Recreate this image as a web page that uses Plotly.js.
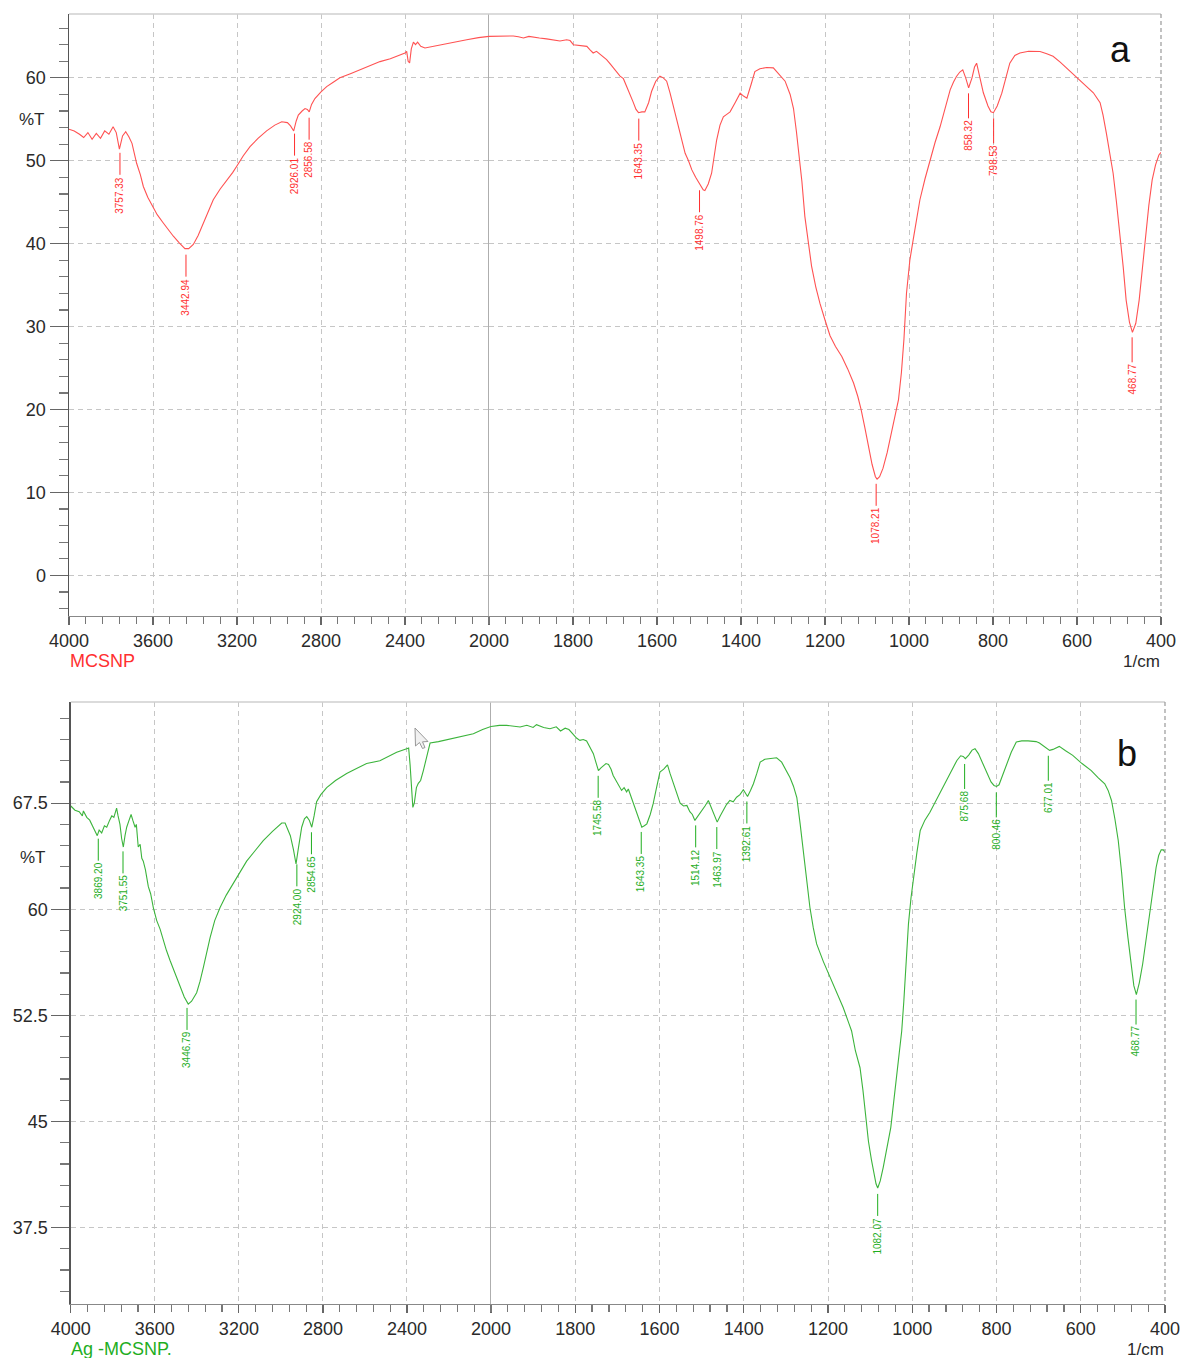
<!DOCTYPE html>
<html><head><meta charset="utf-8">
<script src="https://cdn.plot.ly/plotly-3.0.1.min.js"></script>
<style>html,body{margin:0;padding:0;background:#fff}#chart{width:1181px;height:1358px}</style>
</head><body><div id="chart"></div>
<script>
// ---- Spectrum a: MCSNP ----
const wnA = [4000,3975,3950,3930,3910,3890,3870,3850,3830,3810,3790,3775,3760,3745,3730,3715,3700,3690,3678,3660,3646,3625,3606,3580,3551,3525,3503,3475,3448,3430,3408,3385,3360,3335,3313,3280,3249,3220,3202,3170,3138,3100,3059,3020,2987,2960,2945,2930,2918,2908,2890,2876,2865,2856,2845,2829,2800,2773,2740,2710,2660,2614,2560,2519,2470,2432,2400,2392,2385,2378,2370,2360,2350,2340,2325,2305,2250,2201,2150,2106,2050,2011,2000,
1970,1942,1930,1918,1905,1894,1880,1863,1845,1831,1815,1807,1799,1785,1767,1760,1752,1744,1736,1728,1720,1710,1700,1688,1680,1672,1665,1657,1650,1644,1636,1629,1620,1613,1603,1593,1585,1577,1569,1561,1553,1545,1533,1525,1517,1508,1498,1490,1486,1478,1470,1464,1458,1450,1442,1434,1426,1414,1402,1394,1386,1376,1367,1355,1339,1323,1308,1295,1283,1275,1268,1263,1255,1248,1240,1232,1222,1212,1200,1188,1175,1160,1146,1132,1122,1114,1105,1096,1088,1080,1076,1070,1062,1052,1040,1032,1025,1018,1012,1006,998,990,982,974,962,950,938,926,914,902,894,887,879,872,865,858,850,844,839,832,823,812,805,799,790,779,770,760,748,736,715,700,688,672,657,640,617,590,561,545,538,530,522,514,506,498,490,483,475,468,460,452,444,437,429,421,413,405,400];
const tA = [53.8,53.6,53.2,52.8,53.4,52.6,53.3,52.7,53.6,53.2,54.1,53.4,51.4,53.0,53.5,52.9,52.1,51.0,49.7,48.3,46.9,45.6,44.7,43.5,42.5,41.6,40.9,40.1,39.4,39.4,39.9,41.0,42.5,44.0,45.3,46.6,47.6,48.6,49.3,50.6,51.7,52.7,53.6,54.3,54.7,54.6,54.2,53.6,54.8,55.5,56.0,56.3,56.2,55.9,56.8,57.5,58.3,58.95,59.5,60.0,60.5,61.0,61.5,61.96,62.3,62.65,63.0,63.2,62.0,61.8,63.5,64.3,64.0,64.3,63.8,63.6,63.9,64.1,64.4,64.6,64.85,65.0,65.0,
65.05,65.05,64.95,64.8,65.0,64.95,64.8,64.7,64.6,64.45,64.6,64.5,64.0,63.9,63.8,63.4,63.0,63.2,62.9,62.6,62.2,61.6,61.0,60.2,59.9,59.0,58.2,57.1,56.2,55.8,55.9,55.9,57.0,58.35,59.6,60.2,60.0,59.6,58.2,56.5,54.8,53.3,50.9,50.0,48.9,48.0,47.1,46.5,46.4,47.2,48.5,50.3,52.5,54.3,55.3,55.6,55.9,57.0,58.15,57.8,57.55,59.2,60.76,61.1,61.24,61.2,60.4,59.6,58.0,56.3,53.5,51.3,47.5,43.3,40.2,37.3,34.8,32.8,30.8,28.9,27.6,26.4,24.9,23.2,21.6,20.0,17.8,15.5,13.4,11.9,11.6,11.9,12.9,14.8,17.5,19.3,21.2,24.5,28.5,34.0,38.0,40.5,43.0,45.3,47.8,50.1,52.2,54.1,56.3,58.55,59.5,60.16,60.7,60.96,60.0,58.8,60.0,61.3,61.77,60.3,58.2,56.6,55.9,55.8,56.6,58.15,60.0,61.77,62.7,63.0,63.2,63.2,63.17,62.9,62.6,61.9,60.8,59.6,58.2,57.0,55.5,53.3,51.0,48.5,45.0,41.3,37.2,33.2,30.5,29.3,30.4,33.2,37.3,41.3,44.6,47.7,49.5,50.7,51.0];
const peaksA = [3757.33,3442.94,2926.01,2856.58,1643.35,1498.76,1078.21,858.32,798.53,468.77];

// ---- Spectrum b: Ag -MCSNP ----
const wnB = [4000,3980,3960,3945,3940,3924,3910,3900,3885,3874,3865,3853,3840,3829,3815,3805,3795,3782,3775,3766,3758,3750,3742,3734,3725,3713,3705,3694,3688,3679,3670,3662,3655,3645,3631,3620,3607,3600,3591,3575,3560,3545,3528,3505,3480,3460,3441,3425,3401,3385,3369,3353,3337,3315,3290,3260,3227,3195,3163,3125,3084,3040,2996,2980,2972,2955,2940,2928,2918,2908,2901,2888,2877,2865,2853,2842,2830,2810,2782,2740,2687,2640,2592,2529,2480,2449,2401,2392,2385,2378,2372,2365,2355,2346,2335,2322,2310,2298,2290,2250,2211,2150,2084,2040,2005,2000,
1980,1963,1950,1931,1915,1900,1892,1875,1860,1845,1835,1824,1815,1805,1797,1789,1781,1773,1765,1757,1750,1745,1739,1733,1727,1721,1715,1710,1700,1690,1684,1678,1674,1668,1662,1655,1648,1642,1636,1630,1622,1615,1607,1599,1590,1581,1575,1567,1559,1551,1543,1535,1528,1522,1516,1508,1500,1492,1484,1477,1470,1463,1456,1449,1441,1433,1425,1417,1409,1401,1396,1391,1384,1377,1369,1361,1350,1335,1322,1310,1298,1290,1282,1274,1266,1259,1251,1243,1235,1227,1211,1195,1179,1164,1150,1144,1135,1124,1117,1110,1104,1097,1091,1086,1082,1076,1069,1060,1051,1044,1038,1031,1025,1020,1014,1009,1003,997,989,981,970,958,942,926,910,894,885,879,874,866,858,851,843,837,831,822,813,806,800,794,786,776,765,753,740,725,706,698,690,682,674,666,660,651,636,619,597,575,559,543,535,527,519,511,503,496,488,480,474,468,461,453,445,437,429,421,415,409,404,400];
const tB = [67.3,67.0,66.9,66.6,66.95,66.5,66.3,66.0,65.6,65.2,65.6,65.4,65.9,65.8,66.3,66.6,66.5,67.15,66.6,66.0,65.0,64.4,65.2,65.8,66.2,66.7,66.3,65.8,66.0,64.4,64.6,63.6,63.4,62.8,61.6,61.1,60.1,59.7,59.2,58.6,57.8,57.1,56.4,55.5,54.6,53.8,53.3,53.5,54.1,54.9,55.9,57.0,58.0,59.2,60.1,61.0,61.8,62.6,63.4,64.1,64.85,65.5,66.1,66.1,65.8,65.2,64.2,63.2,64.2,65.3,65.8,66.4,66.55,66.3,65.8,66.6,67.6,68.1,68.6,69.1,69.6,69.95,70.3,70.5,70.9,71.1,71.35,71.4,70.2,68.4,67.2,67.5,68.6,68.9,69.1,69.8,70.6,71.4,71.75,71.85,71.98,72.2,72.4,72.7,72.9,72.92,
73.0,73.0,72.95,72.88,73.0,72.85,73.05,72.85,72.76,72.9,72.6,72.8,72.7,72.4,72.1,71.94,72.0,71.9,71.5,71.0,70.3,69.8,70.0,70.17,70.3,70.24,69.9,69.46,68.9,68.4,68.6,68.3,68.5,68.0,67.46,66.9,66.2,65.8,65.9,66.04,66.7,67.46,68.6,69.7,69.9,70.2,69.6,68.87,68.2,67.5,67.3,67.34,66.9,66.7,66.28,66.6,66.98,67.3,67.69,67.2,66.7,66.16,66.6,66.98,67.4,67.69,67.6,67.92,68.1,68.45,68.2,67.97,68.4,68.87,69.6,70.4,70.6,70.65,70.71,70.4,69.8,69.3,68.7,67.9,66.0,64.15,62.1,60.14,58.7,57.55,56.3,55.19,54.1,53.06,51.9,51.4,50.0,48.8,47.2,45.4,43.6,42.3,41.27,40.6,40.3,40.8,41.74,43.1,44.57,46.4,48.1,49.8,51.4,53.5,56.5,58.97,60.8,62.26,64.0,65.57,66.3,66.86,67.8,68.63,69.6,70.52,70.85,70.8,70.64,70.9,71.25,71.35,71.0,70.6,70.29,69.6,69.0,68.75,68.68,68.8,69.4,70.29,71.1,71.82,71.9,71.9,71.85,71.75,71.58,71.35,71.23,71.3,71.4,71.51,71.2,70.88,70.3,69.8,69.3,68.87,68.4,67.69,66.4,64.86,62.6,60.14,58.0,55.9,54.6,53.96,54.8,56.13,57.8,59.43,61.2,62.97,63.8,64.2,64.2,64.03];
const peaksB = [3869.20,3751.55,3446.79,2924.00,2854.65,1745.58,1643.35,1514.12,1463.97,1392.61,1082.07,875.68,800.46,677.01,468.77];

const xTicksLeft = [4000,3600,3200,2800,2400,2000];
const xTicksRight = [1800,1600,1400,1200,1000,800,600,400];
const yTicksA = [0,10,20,30,40,50,60];
const yTicksB = [37.5,45,52.5,60,67.5];
const yTickTextB = ['37.5','45','52.5','60','67.5'];

// ---- layout helpers ----
const W = 1181, H = 1358, BRK = 2000;
const fx = v => v / W, fy = v => 1 - v / H;
const FONT = 'Liberation Sans, Arial, sans-serif';
const RED = '#ff5252', RED_T = '#ff3030', GREEN = '#3cb43c', GREEN_T = '#1fae1f';

function splitAt(wn, t) {
  const L = {x: [], y: []}, R = {x: [], y: []};
  wn.forEach((w, i) => {
    if (w >= BRK) { L.x.push(w); L.y.push(t[i]); }
    if (w <= BRK) { R.x.push(w); R.y.push(t[i]); }
  });
  return [L, R];
}
function interp(wn, t, w) {
  for (let i = 0; i < wn.length - 1; i++) {
    if ((wn[i] >= w && wn[i + 1] <= w)) {
      const f = (wn[i] - w) / (wn[i] - wn[i + 1]);
      return t[i] + f * (t[i + 1] - t[i]);
    }
  }
  return t[t.length - 1];
}

const [aL, aR] = splitAt(wnA, tA);
const [bL, bR] = splitAt(wnB, tB);
const lineA = {color: RED, width: 1.1}, lineB = {color: GREEN, width: 1.1};
const data = [
  {x: aL.x, y: aL.y, xaxis: 'x', yaxis: 'y', mode: 'lines', line: lineA},
  {x: aR.x, y: aR.y, xaxis: 'x2', yaxis: 'y', mode: 'lines', line: lineA},
  {x: bL.x, y: bL.y, xaxis: 'x3', yaxis: 'y2', mode: 'lines', line: lineB},
  {x: bR.x, y: bR.y, xaxis: 'x4', yaxis: 'y2', mode: 'lines', line: lineB}
];

const P = [{l: 69, m: 489, r: 1161, t: 14, b: 616}, {l: 70.8, m: 491, r: 1165, t: 702, b: 1304}];
const GRID = '#c6c6c6', DASH = '5px,4px';
const tickFont = {family: FONT, size: 18, color: '#2a2a2a'};
function xAx(p, left, anchor) {
  return {
    domain: left ? [fx(p.l), fx(p.m)] : [fx(p.m), fx(p.r)],
    range: left ? [4000, 2000] : [2000, 400],
    anchor: anchor, tickmode: 'array', tickvals: left ? xTicksLeft : xTicksRight,
    ticks: 'outside', ticklen: 8, tickcolor: '#666', tickwidth: 1.2,
    showline: true, linecolor: '#888', linewidth: 1,
    showgrid: true, gridcolor: GRID, griddash: DASH, gridwidth: 1,
    zeroline: false, tickfont: tickFont, fixedrange: true,
    minor: {tickmode: 'linear', tick0: 0, dtick: left ? 80 : 40, ticks: 'outside', ticklen: 7, tickcolor: '#777', showgrid: false}
  };
}
function yAx(p, range, vals, text, minorStep, anchor) {
  return {
    domain: [fy(p.b), fy(p.t)], range: range, anchor: anchor,
    tickmode: 'array', tickvals: vals, ticktext: text,
    ticks: 'outside', ticklen: 18, tickcolor: '#666', tickwidth: 1.2,
    showline: true, linecolor: '#555', linewidth: 1.5,
    showgrid: true, gridcolor: GRID, griddash: DASH, gridwidth: 1,
    zeroline: false, tickfont: tickFont, fixedrange: true,
    minor: {tickmode: 'linear', tick0: 0, dtick: minorStep, ticks: 'outside', ticklen: 9, tickcolor: '#777', showgrid: false}
  };
}

const annotations = [];
function peakLabels(peaks, wn, t, xl, xr, yref, col) {
  peaks.forEach(w => {
    annotations.push({
      x: w, y: interp(wn, t, w), xref: w >= BRK ? xl : xr, yref: yref,
      text: w.toFixed(2), textangle: -90, showarrow: true, arrowhead: 0,
      arrowwidth: 1, arrowcolor: col, ax: 0, ay: 48, standoff: 6,
      font: {family: FONT, size: 10, color: col}
    });
  });
}
peakLabels(peaksA, wnA, tA, 'x', 'x2', 'y', RED_T);
peakLabels(peaksB, wnB, tB, 'x3', 'x4', 'y2', GREEN_T);

function txt(text, x, y, size, color, xanchor) {
  annotations.push({text: text, x: fx(x), y: fy(y), xref: 'paper', yref: 'paper', showarrow: false,
    xanchor: xanchor || 'center', yanchor: 'middle', font: {family: FONT, size: size, color: color}});
}
txt('%T', 32, 119, 17, '#2a2a2a');
txt('%T', 33, 857, 17, '#2a2a2a');
txt('MCSNP', 68, 661, 18, RED_T, 'left');
txt('Ag -MCSNP.', 69, 1349, 18, GREEN_T, 'left');
txt('1/cm', 1162, 661, 17, '#2a2a2a', 'right');
txt('1/cm', 1166, 1349, 17, '#2a2a2a', 'right');
txt('a', 1120, 50, 36, '#111');
txt('b', 1127, 753, 36, '#111');

const shapes = [];
P.forEach((p, i) => {
  const xl = i === 0 ? 'x' : 'x3', yr = i === 0 ? 'y' : 'y2';
  shapes.push({type: 'line', xref: 'paper', yref: 'paper', x0: fx(p.l), x1: fx(p.r), y0: fy(p.t), y1: fy(p.t), line: {color: '#cfcfcf', width: 1.5}});
  shapes.push({type: 'line', xref: 'paper', yref: 'paper', x0: fx(p.r), x1: fx(p.r), y0: fy(p.t), y1: fy(p.b), line: {color: '#999', width: 1.2, dash: '4px,3px'}});
  shapes.push({type: 'line', xref: xl, yref: yr + ' domain', x0: BRK, x1: BRK, y0: 0, y1: 1, layer: 'below', line: {color: '#9a9a9a', width: 1.6}});
});
// mouse-pointer artefact present in the original screenshot (panel b)
const cur = [[415,728],[415.5,746],[419.5,742.5],[422.5,748.5],[425,747.5],[422.5,741.8],[428,741.5]];
shapes.push({type: 'path', xref: 'paper', yref: 'paper',
  path: 'M' + cur.map(c => fx(c[0]) + ',' + fy(c[1])).join('L') + 'Z',
  fillcolor: 'rgba(240,240,240,0.9)', line: {color: '#999', width: 1}});

const layout = {
  width: W, height: H, margin: {l: 0, r: 0, t: 0, b: 0},
  paper_bgcolor: '#fff', plot_bgcolor: '#fff', showlegend: false,
  font: {family: FONT},
  xaxis: xAx(P[0], true, 'y'), xaxis2: xAx(P[0], false, 'y'),
  xaxis3: xAx(P[1], true, 'y2'), xaxis4: xAx(P[1], false, 'y2'),
  yaxis: yAx(P[0], [-4.9, 67.7], yTicksA, yTicksA.map(String), 2, 'x'),
  yaxis2: yAx(P[1], [32.1, 74.65], yTicksB, yTickTextB, 1.5, 'x3'),
  annotations: annotations, shapes: shapes
};
Plotly.newPlot('chart', data, layout, {displayModeBar: false, staticPlot: true});
</script></body></html>
